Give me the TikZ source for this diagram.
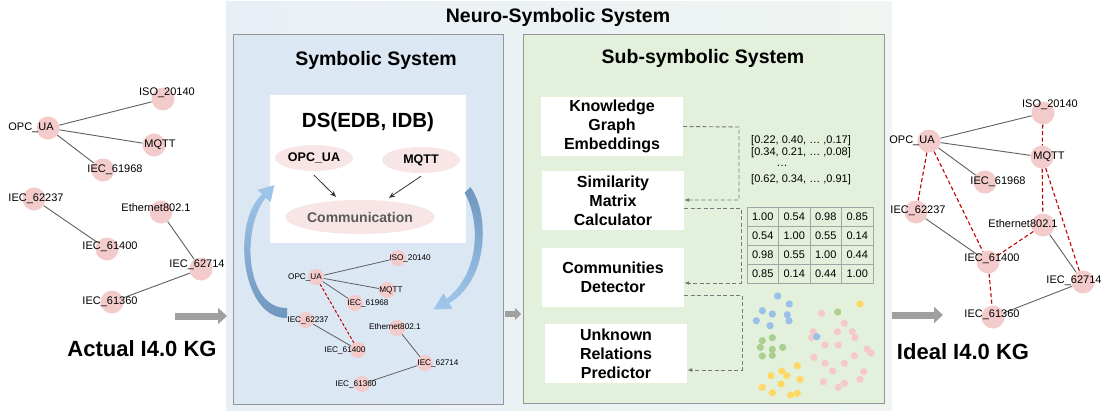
\documentclass[tikz,border=0pt]{standalone}
\usepackage{fontspec}
\setmainfont{Liberation Sans}
\usetikzlibrary{arrows.meta,shapes.geometric}

\definecolor{kgpink}{RGB}{243,203,203}
\definecolor{relgray}{RGB}{95,95,95}
\definecolor{newred}{RGB}{192,0,0}
\definecolor{outerbgL}{RGB}{232,239,247}
\definecolor{outerbgR}{RGB}{240,245,241}
\definecolor{symbg}{RGB}{220,231,244}
\definecolor{subbg}{RGB}{227,240,219}
\definecolor{framegray}{RGB}{150,150,150}
\definecolor{ellpink}{RGB}{248,230,230}
\definecolor{commtext}{RGB}{90,90,90}
\definecolor{dashgray}{RGB}{120,120,120}
\definecolor{arrowgray}{RGB}{160,160,160}
\definecolor{cellgray}{RGB}{165,165,165}
\definecolor{arcLight}{RGB}{160,199,235}
\definecolor{arcDark}{RGB}{110,150,190}
\definecolor{dotblue}{RGB}{152,192,232}
\definecolor{dotgreen}{RGB}{170,208,145}
\definecolor{dotyellow}{RGB}{255,216,100}
\definecolor{dotpink}{RGB}{245,200,203}

\begin{document}
\begin{tikzpicture}[x=1pt,y=-1pt,
  kg/.style={circle, fill=kgpink, inner sep=0pt, minimum size=23pt},
  kgs/.style={circle, fill=kgpink, inner sep=0pt, minimum size=16pt},
  lbl/.style={inner sep=0pt, font=\fontsize{11}{13}\selectfont},
  lbls/.style={inner sep=0pt, font=\fontsize{8.2}{10}\selectfont},
  rel/.style={draw=relgray, line width=0.9pt},
  newrel/.style={draw=newred, line width=1.1pt, dash pattern=on 4pt off 2.5pt},
  bigtitle/.style={font=\bfseries\fontsize{19.5}{23}\selectfont},
  kglabel/.style={font=\bfseries\fontsize{22}{26}\selectfont},
  module/.style={fill=white, inner sep=0pt, minimum width=142pt, minimum height=59pt,
    align=center, font=\bfseries\fontsize{16}{19}\selectfont},
  fact/.style={ellipse, fill=ellpink, inner sep=0pt, font=\bfseries\fontsize{12.5}{15}\selectfont},
  infer/.style={draw=black!80, line width=0.8pt, -{Stealth[length=6pt,width=5pt]}},
  conn/.style={draw=dashgray, line width=0.9pt, dash pattern=on 4pt off 2.5pt,
    -{Latex[length=5pt,width=4pt]}},
  bigarrow/.style={draw=arrowgray, line width=7pt, -{Triangle[length=9pt,width=16pt]}},
  vec/.style={anchor=west, inner sep=0pt, font=\fontsize{11}{13}\selectfont},
  cell/.style={draw=cellgray, line width=0.8pt, minimum width=31.5pt, minimum height=19pt,
    inner sep=0pt, font=\fontsize{11}{13}\selectfont},
  dot/.style={radius=3.6}
]
\useasboundingbox (0,0) rectangle (1107,410);
\fill[white] (0,0) rectangle (1107,410);

% ---------- neuro-symbolic frame ----------
\shade[left color=outerbgL, right color=outerbgR] (226,1) rectangle (892,410);
\node[bigtitle] (nstitle) at (558,17) {Neuro-Symbolic System};

% ---------- symbolic system ----------
\fill[symbg, draw=framegray, line width=0.8pt] (233,34) rectangle (503,404);
\node[bigtitle] (symtitle) at (376,60) {Symbolic System};
\fill[white] (270,95) rectangle (466,243);
\node[font=\bfseries\fontsize{20.5}{24}\selectfont] (ds) at (368,122) {DS(EDB, IDB)};
\node[fact, minimum width=78pt, minimum height=26pt] (eopc) at (314,158) {OPC\_UA};
\node[fact, minimum width=78pt, minimum height=26pt] (emq) at (421,160) {MQTT};
\node[fact, minimum width=124pt, minimum height=34pt, text=commtext,
      font=\bfseries\fontsize{14}{17}\selectfont] (ecom) at (360,217) {Communication};
\draw[infer] ([yshift=-4pt]eopc.south) -- ([shift={(-24pt,3pt)}]ecom.north);
\draw[infer] ([yshift=-3pt]emq.south) -- ([shift={(29pt,2pt)}]ecom.north);

% feedback arcs
\shade[top color=arcLight, middle color=arcLight, bottom color=arcDark]
  (287,318) .. controls (241,319) and (231,222) .. (262.2,194.3)
  -- (257.5,189.8) -- (274.4,185.2) -- (270.5,202.2) -- (265.8,197.7)
  .. controls (241,228) and (245,309) .. (287,308) -- cycle;
\shade[top color=arcDark, middle color=arcLight, bottom color=arcLight]
  (470.5,187.2) .. controls (489,212) and (490,279) .. (449.3,303.2)
  -- (452.6,308.7) -- (433.5,309.5) -- (443.4,293.3) -- (446.7,298.8)
  .. controls (481,272) and (480,219) .. (464.5,192.8) -- cycle;

% small graph inside the symbolic system
\node[kgs] (b-iso) at (398,258) {};
\node[kgs] (b-opc) at (316,277) {};
\node[kgs] (b-mqtt) at (387,290) {};
\node[kgs] (b-i68) at (355,303) {};
\node[kgs] (b-i37) at (306,320) {};
\node[kgs] (b-eth) at (397,328) {};
\node[kgs] (b-i00) at (358,350) {};
\node[kgs] (b-i14) at (425,363) {};
\node[kgs] (b-i60) at (362,384) {};
\draw[rel, line width=0.8pt] (b-opc) -- (b-iso);
\draw[rel, line width=0.8pt] (b-opc) -- (b-mqtt);
\draw[rel, line width=0.8pt] (b-opc) -- (b-i68);
\draw[rel, line width=0.8pt] (b-i37) -- (b-i00);
\draw[rel, line width=0.8pt] (b-eth) -- (b-i14);
\draw[rel, line width=0.8pt] (b-i14) -- (b-i60);
\draw[newrel, line width=1pt, dash pattern=on 3pt off 2pt] (b-opc) -- (b-i00);
\node[lbls] (b-iso-t) at (410,258) {ISO\_20140};
\node[lbls] (b-opc-t) at (305,277) {OPC\_UA};
\node[lbls] (b-mqtt-t) at (391,290) {MQTT};
\node[lbls] (b-i68-t) at (368,303) {IEC\_61968};
\node[lbls] (b-i37-t) at (308,320) {IEC\_62237};
\node[lbls] (b-eth-t) at (395,327) {Ethernet802.1};
\node[lbls] (b-i00-t) at (345,350) {IEC\_61400};
\node[lbls] (b-i14-t) at (438,363) {IEC\_62714};
\node[lbls] (b-i60-t) at (356,384) {IEC\_61360};

% ---------- sub-symbolic system ----------
\fill[subbg, draw=framegray, line width=0.8pt] (523,34) rectangle (884,403);
\node[bigtitle] (subtitle) at (703,58) {Sub-symbolic System};
\node[module] (kge) at (612,126.5) {Knowledge\\Graph\\Embeddings};
\node[module] (sim) at (613,200.5) {Similarity\\Matrix\\Calculator};
\node[module] (com) at (613,277.5) {Communities\\Detector};
\node[module] (urp) at (616,353.5) {Unknown\\Relations\\Predictor};

\coordinate (k1) at (739,127);
\coordinate (k2) at (741,208);
\coordinate (k3) at (742,295);
\draw[conn] (kge.east) -- (k1) |- ([yshift=0.5pt]sim.east);
\draw[conn] ([yshift=-7.5pt]sim.east) -- (k2) |- ([yshift=-5.5pt]com.east);
\draw[conn] ([yshift=-17.5pt]com.east) -- (k3) |- ([yshift=-16.5pt]urp.east);

% embedding vectors
\node[vec] (v1) at (751,141) {[0.22, 0.40, … ,0.17]};
\node[vec] (v2) at (751,153) {[0.34, 0.21, … ,0.08]};
\node[inner sep=0pt, font=\fontsize{11}{13}\selectfont] (v3) at (782,166) {…};
\node[vec] (v4) at (751,180) {[0.62, 0.34, … ,0.91]};

% similarity matrix
\foreach \r/\a/\b/\c/\d in {0/1.00/0.54/0.98/0.85, 1/0.54/1.00/0.55/0.14,
                            2/0.98/0.55/1.00/0.44, 3/0.85/0.14/0.44/1.00} {
  \node[cell] (m\r-0) at (762.75,216.5+19*\r) {\a};
  \node[cell] (m\r-1) at (794.25,216.5+19*\r) {\b};
  \node[cell] (m\r-2) at (825.75,216.5+19*\r) {\c};
  \node[cell] (m\r-3) at (857.25,216.5+19*\r) {\d};
}

% detected communities
\foreach \p in {(777.7,296),(789.3,304),(762.3,310.7),(772.3,314),(787.3,314.7),
                (756.3,320.7),(770,325.7),(789,320.7)}
  \fill[dotblue] \p circle[dot];
\foreach \p in {(837.7,312),(772.3,337.7),(762.3,340.7),(760.3,347.3),(772.3,349.3),
                (782.7,347.3),(762.3,356),(772.3,355.3)}
  \fill[dotgreen] \p circle[dot];
\foreach \p in {(860,304),(797.3,365.7),(781.7,371),(786.7,375.7),(771,375.7),
                (800,379.3),(781,384),(762.3,387.3),(772.3,392.7),(790.7,395),(797.3,393.3)}
  \fill[dotyellow] \p circle[dot];
\foreach \p in {(821.7,313.3),(844.3,323.3),(813.3,331.7),(811.7,337.7),(837.3,331.7),
                (852.3,331.7),(855,337.7),(825,345),(838.3,345),(867,349),(871,353),
                (814,357.3),(854.3,355.7),(825,363.3),(844.3,363.3),(832.7,371),
                (863.7,371.7),(823.3,381.7),(844.3,383.3),(838.3,387.3),(860,379.3)}
  \fill[dotpink] \p circle[dot];
\fill[dotblue] (816.7,336.7) circle[dot];

% ---------- actual knowledge graph ----------
\node[kg] (a-iso) at (163,99) {};
\node[kg] (a-opc) at (48,128) {};
\node[kg] (a-mqtt) at (154,145) {};
\node[kg] (a-i68) at (103,170) {};
\node[kg] (a-i37) at (34,199) {};
\node[kg] (a-eth) at (161,212) {};
\node[kg] (a-i00) at (107,249) {};
\node[kg] (a-i14) at (201,269) {};
\node[kg] (a-i60) at (112,302) {};
\draw[rel] (a-opc) -- (a-iso);
\draw[rel] (a-opc) -- (a-mqtt);
\draw[rel] (a-opc) -- (a-i68);
\draw[rel] (a-i37) -- (a-i00);
\draw[rel] (a-eth) -- (a-i14);
\draw[rel] (a-i14) -- (a-i60);
\node[lbl] (a-iso-t) at (167,93) {ISO\_20140};
\node[lbl] (a-opc-t) at (31,128) {OPC\_UA};
\node[lbl] (a-mqtt-t) at (160,145) {MQTT};
\node[lbl] (a-i68-t) at (115,170) {IEC\_61968};
\node[lbl] (a-i37-t) at (36,199) {IEC\_62237};
\node[lbl] (a-eth-t) at (156,208) {Ethernet802.1};
\node[lbl] (a-i00-t) at (110,247) {IEC\_61400};
\node[lbl] (a-i14-t) at (197,265) {IEC\_62714};
\node[lbl] (a-i60-t) at (110,302) {IEC\_61360};
\node[kglabel] (actual) at (142,349) {Actual I4.0 KG};

% ---------- ideal knowledge graph ----------
\node[kg] (c-iso) at (1043,113) {};
\node[kg] (c-opc) at (929,141) {};
\node[kg] (c-mqtt) at (1042,157) {};
\node[kg] (c-i68) at (985,182) {};
\node[kg] (c-i37) at (916,212) {};
\node[kg] (c-eth) at (1043,225) {};
\node[kg] (c-i00) at (988,262) {};
\node[kg] (c-i14) at (1083,282) {};
\node[kg] (c-i60) at (993,317) {};
\draw[rel] (c-opc) -- (c-iso);
\draw[rel] (c-opc) -- (c-mqtt);
\draw[rel] (c-opc) -- (c-i68);
\draw[rel] (c-i37) -- (c-i00);
\draw[rel] (c-eth) -- (c-i14);
\draw[rel] (c-i14) -- (c-i60);
\draw[newrel] (c-iso) -- (c-mqtt);
\draw[newrel] (c-opc) -- (c-i37);
\draw[newrel] (c-opc) -- (c-i00);
\draw[newrel] (c-mqtt) -- (c-eth);
\draw[newrel] (c-mqtt) -- (c-i14);
\draw[newrel] (c-eth) -- (c-i00);
\draw[newrel] (c-i00) -- (c-i60);
\node[lbl] (c-iso-t) at (1050,105) {ISO\_20140};
\node[lbl] (c-opc-t) at (912,141) {OPC\_UA};
\node[lbl] (c-mqtt-t) at (1049,157) {MQTT};
\node[lbl] (c-i68-t) at (998,182) {IEC\_61968};
\node[lbl] (c-i37-t) at (918,211) {IEC\_62237};
\node[lbl] (c-eth-t) at (1023,224) {Ethernet802.1};
\node[lbl] (c-i00-t) at (992,259) {IEC\_61400};
\node[lbl] (c-i14-t) at (1074,281) {IEC\_62714};
\node[lbl] (c-i60-t) at (992,315) {IEC\_61360};
\node[kglabel] (ideal) at (963,352) {Ideal I4.0 KG};

% ---------- flow arrows ----------
\coordinate (ga1) at (175,316); \coordinate (ga2) at (227,316);
\coordinate (gb1) at (505,314); \coordinate (gb2) at (521,314);
\coordinate (gc1) at (892,315); \coordinate (gc2) at (943,315);
\draw[bigarrow] (ga1) -- (ga2);
\draw[bigarrow, line width=6pt, -{Triangle[length=6pt,width=12pt]}] (gb1) -- (gb2);
\draw[bigarrow] (gc1) -- (gc2);
\end{tikzpicture}
\end{document}
